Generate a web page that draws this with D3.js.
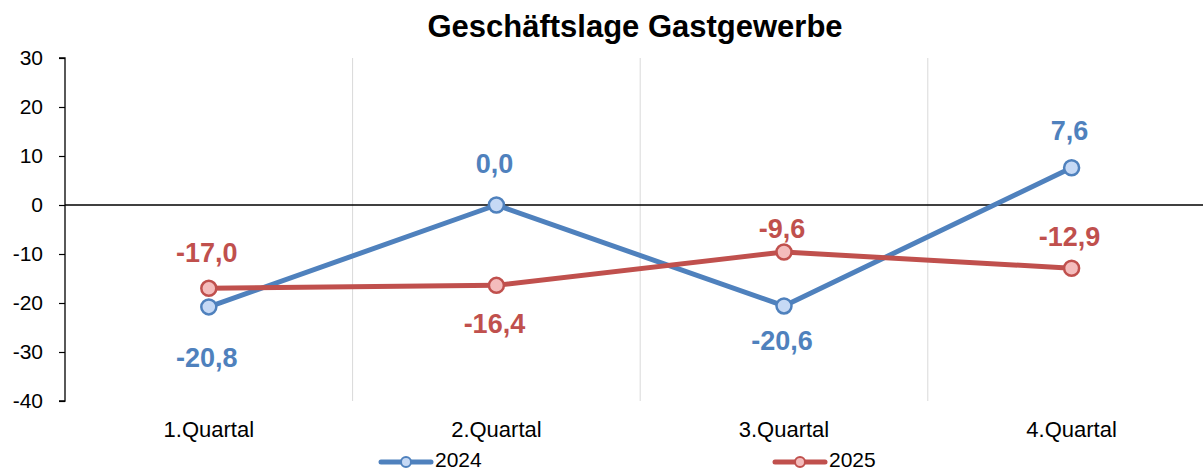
<!DOCTYPE html>
<html>
<head>
<meta charset="utf-8">
<script src="https://cdn.jsdelivr.net/npm/d3@7"></script>
<style>
  body { margin: 0; background: #fff; }
  svg { font-family: "Liberation Sans", Arial, sans-serif; }
</style>
</head>
<body>
<div id="chart"></div>
<script>
// Chart data
var quarters = ['1.Quartal', '2.Quartal', '3.Quartal', '4.Quartal'];
var values2024 = [-20.8, 0.0, -20.6, 7.6];
var values2025 = [-17.0, -16.4, -9.6, -12.9];
var yTicks = [30, 20, 10, 0, -10, -20, -30, -40];

var width = 1203, height = 472;
var margin = {left: 65, top: 58, bottom: 71};
var bandW = 287.6;

// labelDy = baseline shift of each value label relative to its point (hand placed, like in the original)
var series = [
    {name: '2024', values: values2024, color: '#4f81bd', fill: '#c6d9f5', legendX: 379, labelDy: [60, -32, 44, -28]},
    {name: '2025', values: values2025, color: '#c0504d', fill: '#f4bcbc', legendX: 773, labelDy: [-26, 48, -14, -22]}
];

var svg = d3.select('#chart').append('svg')
    .attr('width', width)
    .attr('height', height);

var x = d3.scaleBand()
    .domain(quarters)
    .range([margin.left, margin.left + bandW * quarters.length])
    .padding(0);

var y = d3.scaleLinear()
    .domain([-40, 30])
    .range([height - margin.bottom, margin.top]);

// vertical gridlines between categories
svg.append('g')
    .selectAll('line')
    .data(quarters.slice(1))
    .enter()
    .append('line')
    .attr('x1', d => x(d))
    .attr('x2', d => x(d))
    .attr('y1', y(30))
    .attr('y2', y(-40))
    .style('stroke', '#d9d9d9')
    .style('stroke-width', 1);

// y axis
var yAxis = svg.append('g')
    .attr('transform', 'translate(' + margin.left + ',0)')
    .call(d3.axisLeft(y).tickValues(yTicks).tickSize(6).tickPadding(16).tickFormat(d3.format('d')));
yAxis.select('.domain').attr('stroke', '#000').attr('stroke-width', 1.3).attr('d', 'M-6,' + y(30) + 'H0V' + y(-40) + 'H-6');
yAxis.selectAll('.tick line').attr('stroke', '#000').attr('stroke-width', 1.2);
yAxis.selectAll('.tick text')
    .style('font-size', '21px')
    .style('fill', '#000')
    .text(d => d < 0 ? '-' + Math.abs(d) : d);

// zero line
svg.append('line')
    .attr('x1', margin.left)
    .attr('x2', width)
    .attr('y1', y(0))
    .attr('y2', y(0))
    .style('stroke', '#000')
    .style('stroke-width', 1.3);

// category labels
svg.append('g')
    .selectAll('text')
    .data(quarters)
    .enter()
    .append('text')
    .attr('x', d => x(d) + x.bandwidth() / 2)
    .attr('y', 437)
    .attr('text-anchor', 'middle')
    .style('font-size', '22px')
    .style('fill', '#000')
    .text(d => d);

// title
svg.append('text')
    .attr('x', 635)
    .attr('y', 37)
    .attr('text-anchor', 'middle')
    .style('font-size', '31px')
    .style('font-weight', 'bold')
    .text('Geschäftslage Gastgewerbe');

var cx = d => x(d) + x.bandwidth() / 2;
var fmt = v => v.toFixed(1).replace('.', ',');

series.forEach(function(s) {
    var pts = s.values.map((v, i) => ({q: quarters[i], v: v, dy: s.labelDy[i]}));

    svg.append('path')
        .datum(pts)
        .attr('fill', 'none')
        .attr('stroke', s.color)
        .attr('stroke-width', 5)
        .attr('stroke-linejoin', 'round')
        .attr('d', d3.line().x(d => cx(d.q)).y(d => y(d.v)));

    svg.append('g')
        .selectAll('circle')
        .data(pts)
        .enter()
        .append('circle')
        .attr('cx', d => cx(d.q))
        .attr('cy', d => y(d.v))
        .attr('r', 7.5)
        .style('fill', s.fill)
        .style('stroke', s.color)
        .style('stroke-width', 2.5);

    svg.append('g')
        .selectAll('text')
        .data(pts)
        .enter()
        .append('text')
        .attr('x', d => cx(d.q) - 2)
        .attr('y', d => y(d.v) + d.dy)
        .attr('text-anchor', 'middle')
        .style('font-size', '27px')
        .style('font-weight', 'bold')
        .style('fill', s.color)
        .text(d => fmt(d.v));

    // legend
    var lg = svg.append('g').attr('transform', 'translate(' + s.legendX + ',462)');
    lg.append('line')
        .attr('x1', 2).attr('x2', 52)
        .attr('stroke', s.color)
        .attr('stroke-width', 5)
        .attr('stroke-linecap', 'round');
    lg.append('circle')
        .attr('cx', 27).attr('r', 5)
        .style('fill', s.fill)
        .style('stroke', s.color)
        .style('stroke-width', 2);
    lg.append('text')
        .attr('x', 56).attr('y', 5)
        .style('font-size', '21px')
        .text(s.name);
});
</script>
</body>
</html>
